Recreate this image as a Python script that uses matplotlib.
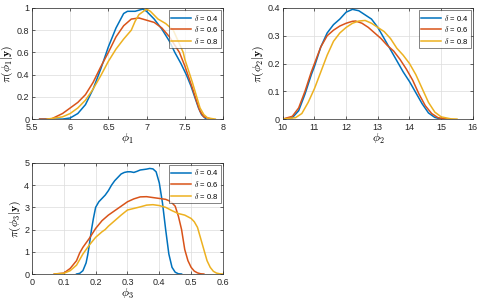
import matplotlib
matplotlib.use('Agg')
import matplotlib.pyplot as plt
import numpy as np

plt.rcParams['font.family'] = ['Liberation Sans', 'DejaVu Sans']
plt.rcParams['mathtext.fontset'] = 'cm'

colors = ['#0072BD', '#D95319', '#EDB120']
labels = [r'$\delta$ = 0.4', r'$\delta$ = 0.6', r'$\delta$ = 0.8']

# phi_1
p1_x_a = [5.6, 5.9, 6.0, 6.1, 6.2, 6.3, 6.4, 6.5, 6.6, 6.7, 6.75, 6.85, 6.95, 7.0, 7.1, 7.2, 7.3, 7.37, 7.45, 7.52, 7.58, 7.63, 7.68, 7.72, 7.78]
p1_y_a = [0, 0.0, 0.01, 0.05, 0.13, 0.27, 0.45, 0.65, 0.82, 0.95, 0.97, 0.97, 0.99, 0.97, 0.9, 0.81, 0.7, 0.6, 0.5, 0.4, 0.3, 0.2, 0.1, 0.04, 0.0]
p1_x_b = [5.6, 5.75, 5.9, 6.0, 6.1, 6.2, 6.3, 6.4, 6.5, 6.6, 6.7, 6.8, 6.9, 7.0, 7.1, 7.2, 7.3, 7.43, 7.5, 7.6, 7.65, 7.7, 7.75, 7.85]
p1_y_b = [0, 0.0, 0.05, 0.1, 0.15, 0.22, 0.33, 0.47, 0.6, 0.74, 0.84, 0.9, 0.91, 0.89, 0.87, 0.82, 0.74, 0.6, 0.48, 0.28, 0.17, 0.07, 0.02, 0]
p1_x_c = [5.7, 5.9, 6.0, 6.1, 6.2, 6.3, 6.4, 6.5, 6.6, 6.7, 6.8, 6.85, 6.9, 7.0, 7.05, 7.15, 7.25, 7.35, 7.48, 7.5, 7.6, 7.7, 7.75, 7.8, 7.9]
p1_y_c = [0, 0.02, 0.05, 0.1, 0.17, 0.27, 0.39, 0.52, 0.63, 0.72, 0.8, 0.88, 0.94, 0.99, 0.97, 0.9, 0.86, 0.8, 0.6, 0.54, 0.33, 0.1, 0.04, 0.01, 0]

# phi_2
p2_x_a = [10.0, 10.3, 10.5, 10.7, 10.9, 11.0, 11.2, 11.4, 11.6, 11.8, 12.0, 12.2, 12.4, 12.6, 12.8, 13.0, 13.2, 13.4, 13.6, 13.8, 14.0, 14.2, 14.4, 14.6, 14.8, 15.0]
p2_y_a = [0, 0.005, 0.03, 0.09, 0.16, 0.19, 0.26, 0.31, 0.34, 0.36, 0.385, 0.395, 0.39, 0.375, 0.36, 0.33, 0.29, 0.25, 0.21, 0.17, 0.135, 0.095, 0.055, 0.022, 0.006, 0]
p2_x_b = [10.0, 10.3, 10.5, 10.7, 10.9, 11.0, 11.2, 11.4, 11.6, 11.8, 12.0, 12.2, 12.3, 12.5, 12.7, 12.9, 13.1, 13.3, 13.5, 13.7, 13.9, 14.1, 14.3, 14.5, 14.7, 14.9, 15.2]
p2_y_b = [0, 0.01, 0.04, 0.1, 0.17, 0.2, 0.26, 0.3, 0.32, 0.335, 0.345, 0.352, 0.353, 0.345, 0.33, 0.31, 0.29, 0.265, 0.245, 0.215, 0.18, 0.14, 0.09, 0.048, 0.02, 0.005, 0]
p2_x_c = [10.0, 10.4, 10.6, 10.8, 11.0, 11.2, 11.4, 11.6, 11.8, 12.0, 12.2, 12.4, 12.6, 12.8, 13.0, 13.2, 13.4, 13.6, 13.8, 14.0, 14.2, 14.4, 14.6, 14.8, 15.0, 15.3, 15.5]
p2_y_c = [0, 0.005, 0.02, 0.06, 0.11, 0.17, 0.23, 0.28, 0.31, 0.33, 0.345, 0.353, 0.355, 0.345, 0.33, 0.315, 0.29, 0.255, 0.23, 0.2, 0.16, 0.11, 0.06, 0.025, 0.008, 0.001, 0]

# phi_3
p3_x_a = [0.14, 0.15, 0.16, 0.17, 0.175, 0.18, 0.187, 0.193, 0.2, 0.21, 0.22, 0.23, 0.24, 0.25, 0.26, 0.27, 0.28, 0.29, 0.3, 0.31, 0.32, 0.33, 0.34, 0.35, 0.36, 0.37, 0.38, 0.39, 0.4, 0.41, 0.42, 0.43, 0.44, 0.45, 0.46, 0.47]
p3_y_a = [0, 0.03, 0.15, 0.5, 0.85, 1.3, 2.0, 2.5, 3.0, 3.25, 3.4, 3.55, 3.75, 4.0, 4.2, 4.35, 4.5, 4.57, 4.6, 4.6, 4.57, 4.62, 4.68, 4.7, 4.72, 4.75, 4.73, 4.6, 4.1, 3.2, 2.0, 0.9, 0.3, 0.08, 0.01, 0]
p3_x_b = [0.07, 0.1, 0.12, 0.14, 0.15, 0.16, 0.18, 0.2, 0.22, 0.24, 0.26, 0.28, 0.3, 0.32, 0.34, 0.36, 0.38, 0.4, 0.42, 0.43, 0.44, 0.45, 0.46, 0.47, 0.48, 0.49, 0.5, 0.51, 0.52, 0.53, 0.54]
p3_y_b = [0, 0.04, 0.25, 0.6, 0.95, 1.2, 1.6, 2.05, 2.4, 2.65, 2.85, 3.05, 3.25, 3.38, 3.47, 3.48, 3.44, 3.4, 3.36, 3.3, 3.2, 3.05, 2.6, 2.0, 1.1, 0.6, 0.3, 0.13, 0.05, 0.01, 0]
p3_x_c = [0.07, 0.1, 0.12, 0.14, 0.16, 0.18, 0.2, 0.22, 0.23, 0.24, 0.26, 0.28, 0.3, 0.32, 0.34, 0.36, 0.38, 0.4, 0.42, 0.44, 0.46, 0.48, 0.5, 0.51, 0.52, 0.53, 0.54, 0.55, 0.56, 0.57, 0.58, 0.59, 0.6]
p3_y_c = [0, 0.03, 0.15, 0.4, 0.9, 1.3, 1.65, 1.9, 2.0, 2.15, 2.4, 2.65, 2.88, 2.95, 3.02, 3.1, 3.12, 3.08, 3.0, 2.85, 2.72, 2.65, 2.5, 2.35, 2.1, 1.6, 1.1, 0.6, 0.3, 0.12, 0.04, 0.01, 0]

panels = [
    dict(curves=[(p1_x_a, p1_y_a), (p1_x_b, p1_y_b), (p1_x_c, p1_y_c)],
         xlim=(5.5, 8), ylim=(0, 1), xticks=np.arange(5.5, 8.01, 0.5), yticks=np.arange(0, 1.01, 0.2),
         xlabel=r'$\phi_1$', ylabel=r'$\pi(\phi_1|\mathbf{y})$', pos=[0.0665, 0.607, 0.397, 0.3667]),
    dict(curves=[(p2_x_a, p2_y_a), (p2_x_b, p2_y_b), (p2_x_c, p2_y_c)],
         xlim=(10, 16), ylim=(0, 0.4), xticks=np.arange(10, 16.1, 1), yticks=np.arange(0, 0.41, 0.1),
         xlabel=r'$\phi_2$', ylabel=r'$\pi(\phi_2|\mathbf{y})$', pos=[0.588, 0.607, 0.395, 0.3667]),
    dict(curves=[(p3_x_a, p3_y_a), (p3_x_b, p3_y_b), (p3_x_c, p3_y_c)],
         xlim=(0, 0.6), ylim=(0, 5), xticks=np.arange(0, 0.61, 0.1), yticks=np.arange(0, 5.1, 1),
         xlabel=r'$\phi_3$', ylabel=r'$\pi(\phi_3|\mathbf{y})$', pos=[0.0665, 0.0957, 0.397, 0.3667]),
]

fig = plt.figure(figsize=(4.81, 3.03), dpi=100)

for p in panels:
    ax = fig.add_axes(p['pos'])
    for (x, y), c, lab in zip(p['curves'], colors, labels):
        ax.plot(x, y, color=c, lw=1.1, label=lab)
    ax.set_xlim(p['xlim'])
    ax.set_ylim(p['ylim'])
    ax.set_xticks(p['xticks'])
    ax.set_yticks(p['yticks'])
    ax.set_xticklabels(['%g' % round(v, 2) for v in p['xticks']])
    ax.set_yticklabels(['%g' % round(v, 2) for v in p['yticks']])
    ax.grid(True, color='#dcdcdc', lw=0.5)
    ax.set_axisbelow(True)
    ax.tick_params(direction='in', length=2, width=0.5, labelsize=6.5, colors='#262626',
                   top=True, right=True)
    ax.tick_params(axis='x', pad=3)
    ax.tick_params(axis='y', pad=2)
    for s in ax.spines.values():
        s.set_linewidth(0.5)
        s.set_color('#262626')
    ax.set_xlabel(p['xlabel'], fontsize=8.5, labelpad=0)
    ax.set_ylabel(p['ylabel'], fontsize=8.5, labelpad=1)
    leg = ax.legend(loc='upper right', fontsize=5.5, handlelength=2.6, handletextpad=0.4,
                    borderpad=0.3, labelspacing=0.2, borderaxespad=0.3, fancybox=False)
    leg.get_frame().set_edgecolor('#262626')
    leg.get_frame().set_linewidth(0.5)

fig.savefig('out.png', dpi=100)
